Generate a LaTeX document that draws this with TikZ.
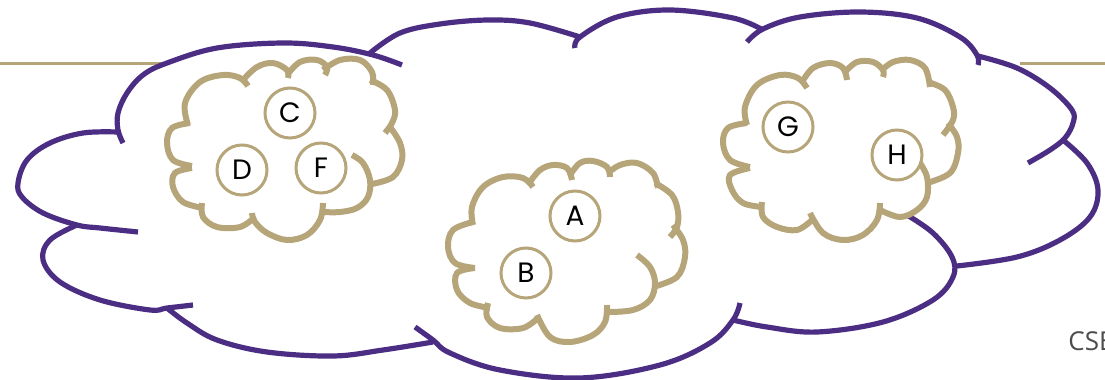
\documentclass[tikz,border=0pt]{standalone}
\usepackage{fontspec}
\usepackage{xcolor}
\usepackage{tikz}
\newfontfamily\letterfont{Poppins}
\newfontfamily\coursefont{Open Sans}
\definecolor{uwpurple}{HTML}{4B2E83}
\definecolor{uwgold}{HTML}{B7A57A}

\begin{document}
\begin{tikzpicture}[
        x=0.5pt, y=-0.5pt,
        outer/.style={draw=uwpurple, line width=2.6pt},
        inner/.style={draw=uwgold, line width=3pt},
        rule/.style={draw=uwgold, line width=1.5pt},
        member/.style={circle, draw=uwgold, line width=1.5pt, fill=white, minimum size=25pt, inner sep=0pt, font=\letterfont\fontsize{14}{14}\selectfont},
        lobe/.style={smooth, tension=0.6}
    ]
        \useasboundingbox (0,0) rectangle (1105,380);
        % header rule
        \draw[rule] (0,63) -- (166,63);
        \draw[rule] (1020,63) -- (1105,63);
        % big cloud
        \draw[outer] plot[lobe] coordinates {(123,143) (118,130) (118,113) (127,93) (143,75) (167,63) (217,48) (283,43) (333,47) (373,55) (402,65)};
        \draw[outer] plot[lobe] coordinates {(370,53) (400,33) (440,24) (488,20) (530,23) (580,37)};
        \draw[outer] plot[lobe] coordinates {(575,48) (580,37) (617,17) (670,10) (733,18) (763,30)};
        \draw[outer] plot[lobe] coordinates {(747,42) (763,29) (800,17) (860,12) (917,18) (960,37) (977,55) (978,65)};
        \draw[outer] plot[lobe] coordinates {(978,56) (1017,68) (1050,88) (1072,110) (1073,123) (1065,138) (1050,150) (1028,163)};
        \draw[outer] plot[lobe] coordinates {(1063,140) (1087,163) (1098,190) (1090,217) (1060,240) (1017,257) (957,266)};
        \draw[outer] plot[lobe] coordinates {(907,215) (933,233) (952,257) (953,277) (933,300) (883,322) (817,332) (767,327) (733,320)};
        \draw[outer] plot[lobe] coordinates {(740,303) (733,320) (710,343) (660,365) (580,378) (500,370) (450,353) (433,340) (415,327)};
        \draw[outer] plot[lobe] coordinates {(433,342) (383,350) (333,356) (267,352) (217,340) (187,323) (167,308)};
        \draw[outer] plot[lobe] coordinates {(193,305) (167,308) (150,310) (100,300) (60,282) (43,260) (50,240) (77,225)};
        \draw[outer] plot[lobe] coordinates {(138,232) (100,228) (77,225) (43,213) (22,197) (18,183) (27,160) (50,143) (83,133) (118,132)};
        % left small cloud
        \draw[inner] plot[lobe] coordinates {(188,125) (185,103) (200,82) (223,75) (240,78) (248,86)};
        \draw[inner] plot[lobe] coordinates {(243,80) (257,67) (273,63) (287,70) (288,78)};
        \draw[inner] plot[lobe] coordinates {(287,75) (300,62) (317,60) (327,67) (325,75)};
        \draw[inner] plot[lobe] coordinates {(323,70) (340,60) (360,60) (372,72) (373,85)};
        \draw[inner] plot[lobe] coordinates {(370,80) (387,90) (395,110) (392,123) (385,133)};
        \draw[inner] plot[lobe] coordinates {(390,127) (400,143) (402,160) (393,177) (372,184)};
        \draw[inner] plot[lobe] coordinates {(352,155) (363,163) (370,180) (368,197) (357,208) (340,212) (323,212)};
        \draw[inner] plot[lobe] coordinates {(323,203) (320,220) (307,235) (287,240) (267,233) (255,222) (252,213)};
        \draw[inner] plot[lobe] coordinates {(255,217) (240,227) (217,227) (203,217) (202,203)};
        \draw[inner] plot[lobe] coordinates {(203,208) (183,202) (173,187) (175,173) (192,168)};
        \draw[inner] plot[lobe] coordinates {(192,166) (173,160) (167,143) (172,128) (190,123)};
        % middle small cloud
        \draw[inner] plot[lobe] coordinates {(473,225) (472,207) (483,187) (503,177) (523,178) (533,187)};
        \draw[inner] plot[lobe] coordinates {(530,182) (540,170) (553,165) (567,168) (572,180)};
        \draw[inner] plot[lobe] coordinates {(570,175) (580,163) (593,161) (607,167) (610,177)};
        \draw[inner] plot[lobe] coordinates {(608,173) (620,165) (637,163) (653,173) (658,188)};
        \draw[inner] plot[lobe] coordinates {(655,183) (672,195) (678,212) (677,227) (670,237)};
        \draw[inner] plot[lobe] coordinates {(673,225) (683,240) (685,257) (677,277) (653,287)};
        \draw[inner] plot[lobe] coordinates {(637,255) (650,267) (655,283) (650,300) (633,310) (608,312)};
        \draw[inner] plot[lobe] coordinates {(607,305) (605,322) (593,335) (570,342) (550,337) (537,315)};
        \draw[inner] plot[lobe] coordinates {(538,318) (523,328) (500,328) (487,317) (488,303)};
        \draw[inner] plot[lobe] coordinates {(490,308) (470,303) (457,290) (457,273) (475,268)};
        \draw[inner] plot[lobe] coordinates {(475,268) (455,263) (448,247) (453,230) (473,222)};
        % right small cloud
        \draw[inner] plot[lobe] coordinates {(747,125) (745,107) (757,85) (780,75) (798,78) (807,88)};
        \draw[inner] plot[lobe] coordinates {(802,82) (813,68) (830,63) (843,68) (847,80)};
        \draw[inner] plot[lobe] coordinates {(845,72) (857,62) (873,62) (883,70) (883,77)};
        \draw[inner] plot[lobe] coordinates {(882,70) (893,62) (910,60) (925,68) (930,87)};
        \draw[inner] plot[lobe] coordinates {(928,82) (945,90) (953,107) (953,120) (943,135)};
        \draw[inner] plot[lobe] coordinates {(948,123) (957,137) (958,153) (950,173) (927,183)};
        \draw[inner] plot[lobe] coordinates {(920,163) (927,177) (927,197) (917,210) (900,217) (880,210)};
        \draw[inner] plot[lobe] coordinates {(880,203) (877,220) (863,235) (843,240) (823,233) (810,213)};
        \draw[inner] plot[lobe] coordinates {(812,220) (797,230) (777,227) (763,217) (762,202)};
        \draw[inner] plot[lobe] coordinates {(762,207) (743,203) (732,190) (730,175) (750,168)};
        \draw[inner] plot[lobe] coordinates {(750,167) (730,160) (723,143) (728,128) (747,123)};
        % members
        \node[member] (c) at (290,113) {C};
        \node[member] (d) at (242,170) {D};
        \node[member] (f) at (321,168) {F};
        \node[member] (a) at (575,216) {A};
        \node[member] (b) at (526,273) {B};
        \node[member] (g) at (788,127) {G};
        \node[member] (h) at (897,155) {H};
        % footer
        \node[anchor=base west, inner sep=0pt, text=black!70, font=\coursefont\fontsize{13}{13}\selectfont] (course) at (1068,350) {CSE};
    \end{tikzpicture}
\end{document}
